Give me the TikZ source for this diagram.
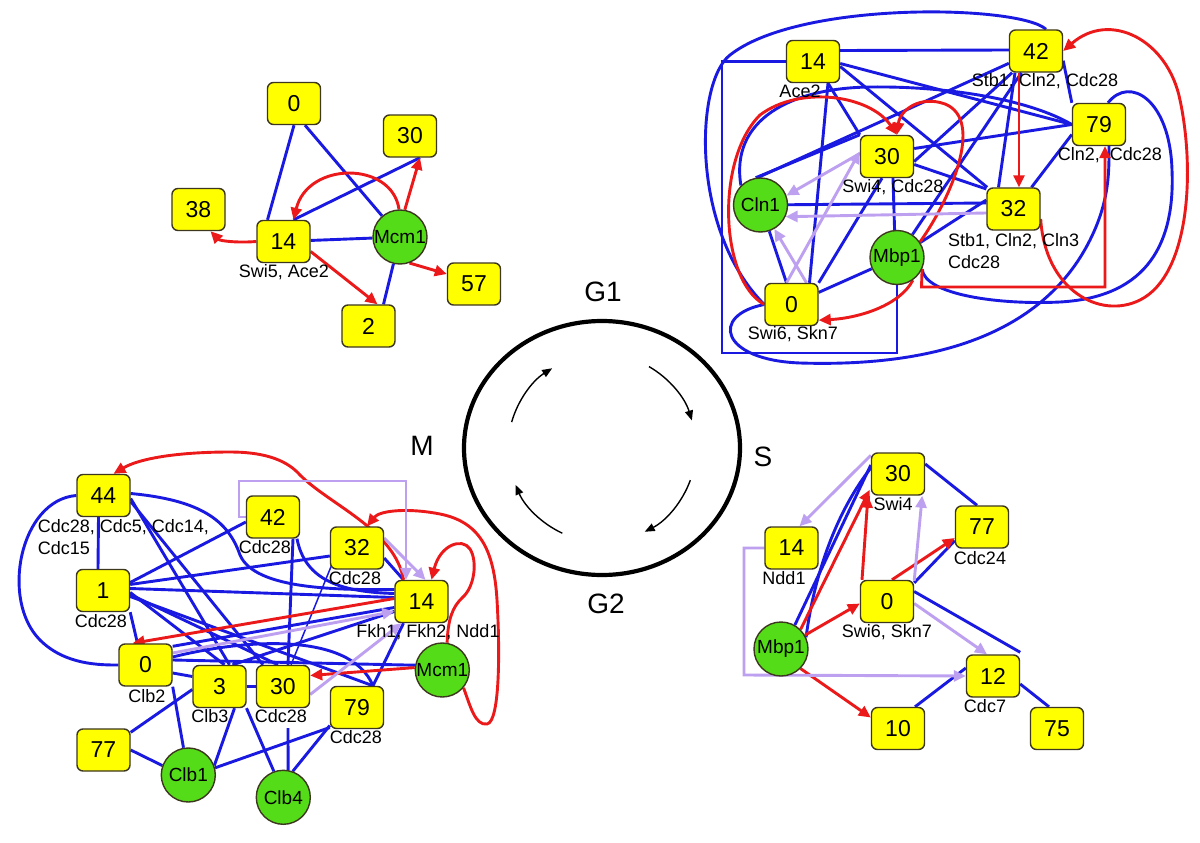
\documentclass[tikz,border=0pt]{standalone}
\usepackage{fontspec}
\setmainfont{Liberation Sans}
\usetikzlibrary{arrows.meta,calc,backgrounds}
\definecolor{eblue}{RGB}{25,25,225}
\definecolor{ered}{RGB}{235,25,25}
\definecolor{elav}{RGB}{190,160,240}
\definecolor{nyel}{RGB}{255,255,0}
\definecolor{ngrn}{RGB}{85,220,25}
\definecolor{nbrd}{RGB}{60,55,30}
\begin{document}
\begin{tikzpicture}[x=1pt,y=-1pt,
  box/.style={draw=nbrd, fill=nyel, rounded corners=6pt, minimum width=53pt, minimum height=42pt, inner sep=0pt, line width=1.4pt, font=\fontsize{23}{23}\selectfont},
  circ/.style={circle, draw=nbrd, fill=ngrn, minimum size=54pt, inner sep=0pt, line width=1.4pt, font=\fontsize{19}{19}\selectfont},
  lab/.style={inner sep=0pt, font=\fontsize{18}{18}\selectfont},
  labtwo/.style={inner sep=0pt, align=left, anchor=west, font=\fontsize{18}{22}\selectfont},
  phase/.style={inner sep=0pt, font=\fontsize{28}{28}\selectfont},
  bl/.style={draw=eblue, line width=2.9pt},
  rd/.style={draw=ered, line width=2.9pt, -{Triangle[length=12pt,width=11pt]}},
  lv/.style={draw=elav, line width=2.9pt, -{Triangle[length=12pt,width=11pt]}},
  cyc/.style={draw=black, line width=1.4pt, -{Triangle[length=10pt,width=8pt]}}
]
\useasboundingbox (0,0) rectangle (1200,843);

% ---------------- centre ----------------
\draw[line width=4.2pt] (602,448) ellipse [x radius=138pt, y radius=127pt];
\begin{scope}[shift={(602,448)}, y=1pt]
  \draw[cyc] (164:94) arc[start angle=164, end angle=122, radius=94pt];
  \draw[cyc] (60:94) arc[start angle=60, end angle=17, radius=94pt];
  \draw[cyc] (-20:94) arc[start angle=-20, end angle=-63, radius=94pt];
  \draw[cyc] (-115:94) arc[start angle=-115, end angle=-157, radius=94pt];
\end{scope}
\node[phase] (G1) at (603,292) {G1};
\node[phase] (S) at (763,457) {S};
\node[phase] (G2) at (606,604) {G2};
\node[phase] (M) at (422,446) {M};

% ---------------- top left ----------------
\node[box] (A0) at (294,103.5) {0};
\node[box] (A30) at (410,136) {30};
\node[box] (A38) at (198.5,209.5) {38};
\node[box] (A14) at (283.5,241.5) {14};
\node[circ] (AM) at (400,237) {Mcm1};
\node[box] (A57) at (474,284) {57};
\node[box] (A2) at (368.5,326) {2};
\node[lab] (A14l) at (284,272) {Swi5, Ace2};

% ---------------- top right ----------------
\node[box] (B14) at (813,61.5) {14};
\node[box] (B42) at (1036,51) {42};
\node[box] (B79) at (1099,124.5) {79};
\node[box] (B30) at (887,156.5) {30};
\node[circ] (BC) at (760.5,205) {Cln1};
\node[box] (B32) at (1013.5,209) {32};
\node[circ] (BM) at (897,257.5) {Mbp1};
\node[box] (B0) at (791.5,304.5) {0};
\node[lab] (B14l) at (800,91) {Ace2};
\node[lab] (B42l) at (1045,81) {Stb1, Cln2, Cdc28};
\node[lab] (B79l) at (1110,155) {Cln2, \ Cdc28};
\node[lab] (B30l) at (893,187) {Swi4, Cdc28};
\node[labtwo] (B32l) at (948,251) {Stb1, Cln2, Cln3\\Cdc28};
\node[lab] (B0l) at (793,334) {Swi6, Skn7};

% ---------------- bottom left ----------------
\node[box] (C44) at (103.5,495.5) {44};
\node[box] (C42) at (273,517) {42};
\node[box] (C32) at (357,548) {32};
\node[box] (C1) at (103,590.5) {1};
\node[box] (C14) at (421.5,601.5) {14};
\node[box] (C0) at (145.5,665) {0};
\node[box] (C3) at (219.5,686.5) {3};
\node[box] (C30) at (283,686.5) {30};
\node[box] (C79) at (357,707.5) {79};
\node[circ] (CM) at (442.3,670) {Mcm1};
\node[box] (C77) at (103.5,750) {77};
\node[circ] (CB1) at (188.3,775) {Clb1};
\node[circ] (CB4) at (283.3,797.3) {Clb4};
\node[labtwo] (C44l) at (37.7,537) {Cdc28, Cdc5, Cdc14,\\Cdc15};
\node[lab] (C42l) at (265,547) {Cdc28};
\node[lab] (C32l) at (355,578) {Cdc28};
\node[lab] (C1l) at (101,621) {Cdc28};
\node[lab] (C14l) at (428,632) {Fkh1, Fkh2, Ndd1};
\node[lab] (C0l) at (147,696) {Clb2};
\node[lab] (C3l) at (210,716) {Clb3};
\node[lab] (C30l) at (281,716) {Cdc28};
\node[lab] (C79l) at (356,737) {Cdc28};

% ---------------- bottom right ----------------
\node[box] (D30) at (898,474) {30};
\node[box] (D77) at (982,527) {77};
\node[box] (D14) at (791.5,548) {14};
\node[box] (D0) at (887,601.5) {0};
\node[circ] (DM) at (781,649) {Mbp1};
\node[box] (D12) at (993,676) {12};
\node[box] (D10) at (898,728.5) {10};
\node[box] (D75) at (1057,728.5) {75};
\node[lab] (D30l) at (893,504) {Swi4};
\node[lab] (D77l) at (980,558) {Cdc24};
\node[lab] (D14l) at (784,578) {Ndd1};
\node[lab] (D0l) at (887,632) {Swi6, Skn7};
\node[lab] (D12l) at (985,706) {Cdc7};

\begin{pgfonlayer}{background}
\fill[white] (0,0) rectangle (1200,843);

% ===== top left edges =====
\draw[bl] (A0.south) -- ($(A14.north)+(-16,0)$);
\draw[bl] ($(A0.south)+(11,0)$) -- (AM);
\draw[bl] ($(A14.north)+(10,0)$) -- ($(A30.south)+(10,0)$);
\draw[bl] (A14) -- (AM);
\draw[bl] (AM) -- ($(A2.north)+(15,0)$);
\draw[rd] (AM.92) .. controls (392,161) and (308,161) .. ($(A14.north)+(10,0)$);
\draw[rd] (AM.80) -- ($(A30.south)+(10,0)$);
\draw[rd] (A14.west) .. controls (238,243) and (220,241) .. ($(A38.south)+(12,0)$);
\draw[rd] ($(A14.east)+(0,10)$) -- ($(A2.north)+(9,0)$);
\draw[rd] (AM.-70) -- ($(A57.west)+(0,-10)$);

% ===== top right edges =====
\draw[bl] ($(B14.east)+(0,-11)$) -- ($(B42.west)+(0,-1)$);
\draw[bl] ($(B14.east)+(0,2)$) -- (B79.west);
\draw[bl] ($(B14.east)+(0,5)$) -- (B32);
\draw[bl] ($(B14.south)+(15,0)$) -- (B30.north west);
\draw[bl] ($(B14.south)+(15,0)$) -- ($(B0.north)+(18,0)$);
\draw[bl] (B42) -- (BC.95);
\draw[bl] (B42) -- ($(B30.east)+(0,5)$);
\draw[bl] (B42) -- (BM);
\draw[bl] ($(B42.south)+(-21,0)$) -- ($(B32.north)+(-15,0)$);
\draw[bl] ($(B42.south east)+(0,-12)$) -- (B79.north west);
\draw[bl] (B79.west) -- ($(B30.east)+(0,-8)$);
\draw[bl] ($(B79.west)+(0,10)$) -- ($(B32.north)+(18,0)$);
\draw[bl] (BC.100) -- (B30.north west);
\draw[bl] (BC) -- ($(B32.west)+(0,-6)$);
\draw[bl] (BC) -- ($(B0.north)+(-5,0)$);
\draw[bl] ($(B30.south)+(6,0)$) -- (BM.95);
\draw[bl] ($(B30.south)+(-5,0)$) -- (B0.north east);
\draw[bl] ($(B30.east)+(0,8)$) -- ($(B32.west)+(0,-20)$);
\draw[bl] (BM) -- (B0);
\draw[bl] (BM) -- ($(B32.west)+(0,-9)$);
\draw[bl] ($(B42.north)+(10,0)$) .. controls (1020,5) and (800,0) .. (730,55) .. controls (695,82) and (690,230) .. (B0.west);
\draw[bl] (B14.west) -| (722,353) -| (BM.south);
\draw[bl] (BC.135) .. controls (730,120) and (790,88) .. (870,87) .. controls (950,86) and (1030,100) .. (B79.west);
\draw[bl] (B0.west) .. controls (710,315) and (720,360) .. (800,363) .. controls (960,368) and (1050,320) .. (1090,240) .. controls (1110,200) and (1109,170) .. ($(B79.south)+(10,0)$);
\draw[bl] (BM.-25) .. controls (925,295) and (1000,305) .. (1060,302) .. controls (1150,297) and (1175,240) .. (1172,170) .. controls (1170,100) and (1130,75) .. ($(B79.north)+(9,0)$);
\draw[rd] ($(B42.south)+(-17,0)$) -- ($(B32.north)+(5.5,0)$);
\draw[rd] ($(B32.east)+(0,10)$) .. controls (1045,290) and (1100,320) .. (1140,300) .. controls (1190,275) and (1195,170) .. (1180,100) .. controls (1168,40) and (1110,10) .. (B42.east);
\draw[rd] (BM.-25) -- (921.5,287) -- (1105,287) -- ($(B79.south)+(6,0)$);
\draw[rd] (B0.west) .. controls (720,280) and (715,160) .. (760,115) .. controls (800,85) and (870,95) .. ($(B30.north)+(10,0)$);
\draw[rd] (BM.34) .. controls (950,200) and (985,120) .. (945,104) .. controls (920,95) and (900,110) .. ($(B30.north)+(10,0)$);
\draw[rd] (BM.-55) .. controls (900,305) and (860,318) .. ($(B0.south east)+(0,-6)$);
\draw[lv] ($(B32.west)+(0,4)$) -- (BC.-25);
\draw[lv] ($(B30.west)+(0,-3)$) -- (BC.20);
\draw[lv] ($(B0.north)+(-5,0)$) -- ($(B30.west)+(0,-5)$);
\draw[lv] ($(B0.north)+(15,0)$) -- (BC.-60);

% ===== bottom left edges =====
\draw[bl] ($(C44.south)+(-5,0)$) -- ($(C1.north)+(-5,0)$);
\draw[bl] (C44.west) .. controls (20,500) and (0,600) .. (40,640) .. controls (65,665) and (100,665) .. (C0.west);
\draw[bl] ($(C44.east)+(0,-2)$) .. controls (200,500) and (228,520) .. (240,555) .. controls (255,590) and (340,590) .. ($(C14.west)+(0,-12)$);
\draw[bl] ($(C44.east)+(0,3)$) -- ($(C3.north)+(10,0)$);
\draw[bl] ($(C44.east)+(0,6)$) -- ($(C30.north)+(-20,0)$);
\draw[bl] ($(C42.west)+(0,5)$) -- ($(C1.east)+(0,-8)$);
\draw[bl] ($(C42.south)+(20,0)$) -- ($(C30.north)+(5,0)$);
\draw[bl] ($(C42.south)+(24,0)$) .. controls (305,580) and (340,592) .. ($(C14.west)+(0,-8)$);
\draw[bl] ($(C32.west)+(0,8)$) -- ($(C1.east)+(0,-6)$);
\draw[bl, line width=1.5pt] ($(C32.south west)+(2,-5)$) -- ($(C30.north)+(8,0)$);
\draw[bl] ($(C32.east)+(0,10)$) -- ($(C14.north)+(-18,0)$);
\draw[bl] ($(C1.east)+(0,-2)$) -- ($(C14.west)+(0,-4)$);
\draw[bl] ($(C1.east)+(0,2)$) -- ($(C3.north)+(5,0)$);
\draw[bl] ($(C1.east)+(0,4)$) -- ($(C30.north)+(-5,0)$);
\draw[bl] ($(C1.east)+(0,6)$) -- ($(C79.north)+(16,0)$);
\draw[bl] (C1.south east) -- ($(C0.north)+(-8,0)$);
\draw[bl] ($(C0.north east)+(0,3)$) -- ($(C14.west)+(0,6)$);
\draw[bl] ($(C0.east)+(0,-5)$) -- (CM.170);
\draw[bl] ($(C0.east)+(0,-8)$) .. controls (240,640) and (350,630) .. ($(C79.north)+(16,0)$);
\draw[bl] ($(C0.east)+(0,8)$) -- ($(C3.west)+(0,-10)$);
\draw[bl] (C0.south east) -- (CB1.100);
\draw[bl] (C3) -- (C30);
\draw[bl] ($(C3.west)+(0,3)$) -- ($(C77.north east)+(0,4)$);
\draw[bl] ($(C3.south)+(15,0)$) -- (CB1.20);
\draw[bl] ($(C3.south)+(27,0)$) -- (CB4.110);
\draw[bl] ($(C3.north)+(13,0)$) -- ($(C14.west)+(0,10)$);
\draw[bl] ($(C30.south)+(5,20)$) -- (CB4.80);
\draw[bl] ($(C79.west)+(0,18)$) -- (CB4.70);
\draw[bl] ($(C79.west)+(0,20)$) -- (CB1.15);
\draw[bl] ($(C79.north)+(16,0)$) -- ($(C14.south)+(-18,0)$);
\draw[bl] (C77.east) -- (CB1.160);
\draw[rd] ($(C14.north)+(-18,0)$) .. controls (395,530) and (330,505) .. (300,475) .. controls (285,458) and (260,452) .. (230,452) .. controls (180,452) and (140,458) .. ($(C44.north)+(10,0)$);
\draw[rd] (CM.80) .. controls (448,620) and (452,607) .. (463,597) .. controls (474,587) and (478,562) .. (470,549) .. controls (462,537) and (440,545) .. ($(C14.north)+(10,0)$);
\draw[rd] (CM.-40) .. controls (470,705) and (475,726) .. (487,724) .. controls (500,722) and (500,650) .. (497,600) .. controls (494,550) and (480,522) .. (440,514) .. controls (410,508) and (380,510) .. ($(C32.north)+(10,0)$);
\draw[rd] ($(C14.west)+(0,-3)$) -- ($(C0.north)+(-13,0)$);
\draw[rd] (CM.175) -- ($(C30.east)+(0,-11)$);
\draw[lv] (C42.west) -- (239,517) -- (239,481) -- (406,481) -- ($(C14.north)+(-15.5,0)$);
\draw[lv] ($(C32.east)+(0,-10)$) -- ($(C14.north)+(4,0)$);
\draw[lv] ($(C0.east)+(0,-12)$) -- ($(C14.west)+(0,10)$);
\draw[lv] ($(C30.east)+(0,8)$) -- ($(C14.south)+(-20,0)$);

% ===== bottom right edges =====
\draw[bl] ($(D30.east)+(0,-10)$) -- ($(D77.north)+(-5,0)$);
\draw[bl] (DM.60) -- ($(D30.west)+(0,-9)$);
\draw[bl] (DM.25) .. controls (812,590) and (830,520) .. ($(D30.west)+(0,-6)$);
\draw[bl] ($(D0.north east)+(0,3)$) -- ($(D77.south west)+(0,-8)$);
\draw[bl] ($(D0.east)+(0,-10)$) -- ($(D12.north east)+(0,-2)$);
\draw[bl] ($(D12.east)+(0,8)$) -- ($(D75.north)+(-8,0)$);
\draw[bl] ($(D10.north)+(17,0)$) -- ($(D12.west)+(0,-8)$);
\draw[rd] (DM.45) -- ($(D30.south west)+(-1,-6)$);
\draw[rd] ($(D0.north)+(-25,0)$) -- ($(D30.south)+(-30,0)$);
\draw[rd] (DM.30) -- ($(D0.west)+(0,2)$);
\draw[rd] ($(D0.north)+(5,0)$) -- ($(D77.west)+(0,11)$);
\draw[rd] (DM.-45) -- ($(D10.west)+(0,-11)$);
\draw[lv] ($(D30.north west)+(0,3)$) -- ($(D14.north)+(8,0)$);
\draw[lv] ($(D0.north east)+(0,1)$) -- ($(D30.south east)+(-3,0)$);
\draw[lv] ($(D0.east)+(0,2)$) -- ($(D12.north)+(-6,0)$);
\draw[lv] (D14.west) -- (744,548) -- (744,675) -- (D12.west);
\end{pgfonlayer}
\end{tikzpicture}
\end{document}
